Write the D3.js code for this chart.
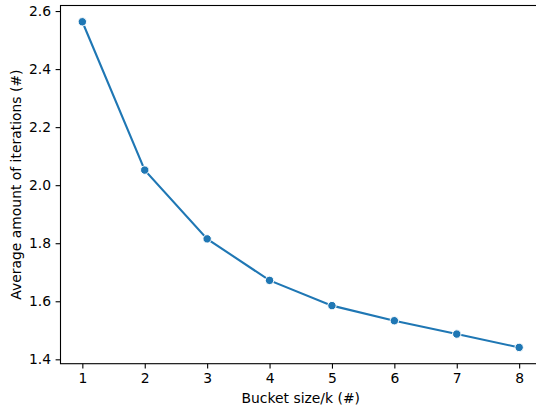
<!DOCTYPE html>
<html>
<head>
<meta charset="utf-8">
<script src="https://cdn.jsdelivr.net/npm/d3@7"></script>
<style>
  body { margin: 0; background: #fff; }
  text { font-family: "DejaVu Sans", sans-serif; fill: #000; }
</style>
</head>
<body>
<div id="chart"></div>
<script>
// data
const bucketSizes = [1, 2, 3, 4, 5, 6, 7, 8];
const avgIterations = [2.563, 2.052, 1.815, 1.672, 1.585, 1.533, 1.487, 1.441];
const yTicks = [1.4, 1.6, 1.8, 2.0, 2.2, 2.4, 2.6];
const xLabel = "Bucket size/k (#)";
const yLabel = "Average amount of iterations (#)";

const W = 536, H = 412;
// axes box (right edge runs off the canvas, like the cropped original)
const margin = {top: 5.5, left: 60.5, bottom: 363.7, right: 541};

const svg = d3.select("#chart").append("svg")
    .attr("width", W)
    .attr("height", H);

// matplotlib style 5% padding on both axes
const xExt = d3.extent(bucketSizes);
const xPad = (xExt[1] - xExt[0]) * 0.05;
const x = d3.scaleLinear()
    .domain([xExt[0] - xPad, xExt[1] + xPad])
    .range([margin.left, margin.right]);

const yExt = d3.extent(avgIterations);
const yPad = (yExt[1] - yExt[0]) * 0.05;
const y = d3.scaleLinear()
    .domain([yExt[0] - yPad, yExt[1] + yPad])
    .range([margin.bottom, margin.top]);

// x axis
const xAxis = svg.append("g")
    .attr("transform", "translate(0," + margin.bottom + ")")
    .call(d3.axisBottom(x).tickValues(bucketSizes).tickFormat(d3.format("d")).tickSize(4.9).tickPadding(4.5));

// y axis
const yAxis = svg.append("g")
    .attr("transform", "translate(" + margin.left + ",0)")
    .call(d3.axisLeft(y).tickValues(yTicks).tickFormat(d3.format(".1f")).tickSize(4.9).tickPadding(4.5));

[xAxis, yAxis].forEach(function(a) {
    a.select(".domain").remove();
    a.selectAll(".tick line").attr("stroke", "#000").attr("stroke-width", 1.1);
    a.selectAll(".tick text")
        .attr("font-size", 13.9)
        .attr("font-family", "DejaVu Sans, sans-serif")
        .attr("fill", "#000");
});

// spines
svg.append("rect")
    .attr("x", margin.left)
    .attr("y", margin.top)
    .attr("width", margin.right - margin.left)
    .attr("height", margin.bottom - margin.top)
    .attr("fill", "none")
    .attr("stroke", "#000")
    .attr("stroke-width", 1.1);

// line
const line = d3.line()
    .x((d, i) => x(bucketSizes[i]))
    .y(d => y(d));

svg.append("path")
    .datum(avgIterations)
    .attr("fill", "none")
    .attr("stroke", "#1f77b4")
    .attr("stroke-width", 2.1)
    .attr("d", line);

// markers
svg.append("g").selectAll("circle")
    .data(avgIterations)
    .enter().append("circle")
    .attr("cx", (d, i) => x(bucketSizes[i]))
    .attr("cy", d => y(d))
    .attr("r", 4.2)
    .attr("fill", "#1f77b4")
    .attr("stroke", "#fff")
    .attr("stroke-width", 1);

// axis labels
svg.append("text")
    .attr("x", x(4.5))
    .attr("y", 403)
    .attr("text-anchor", "middle")
    .attr("font-size", 13.9)
    .text(xLabel);

svg.append("text")
    .attr("transform", "translate(21," + ((margin.top + margin.bottom) / 2) + ") rotate(-90)")
    .attr("text-anchor", "middle")
    .attr("font-size", 13.9)
    .text(yLabel);
</script>
</body>
</html>
